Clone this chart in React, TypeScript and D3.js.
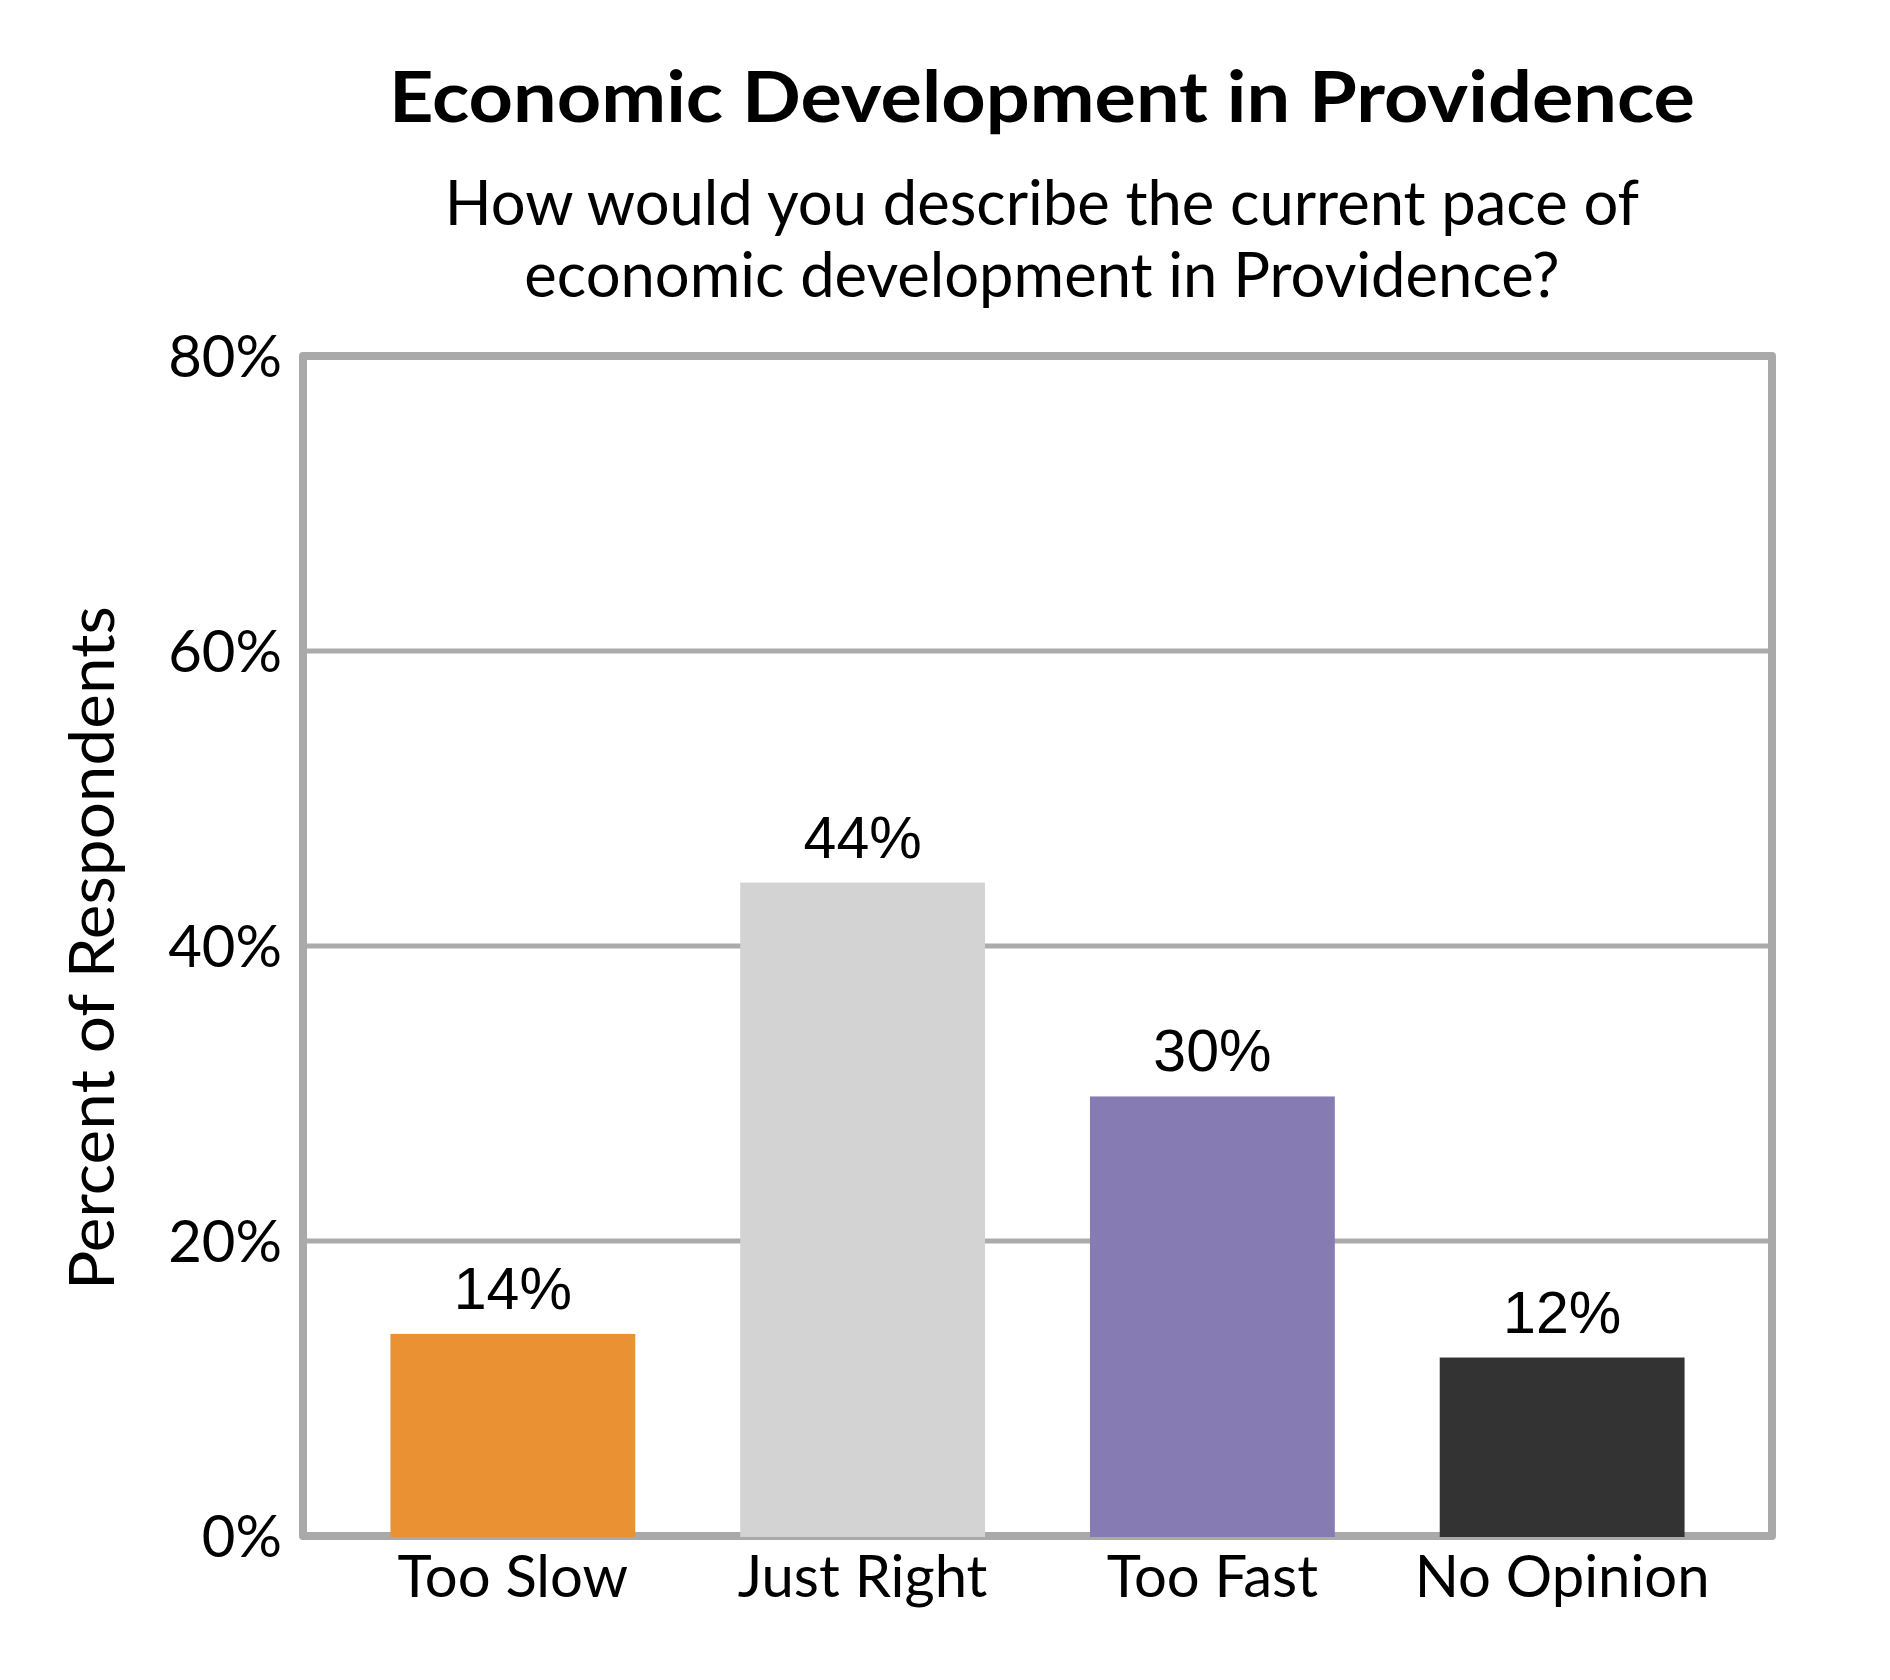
import React from 'react';
import * as d3 from 'd3';

const categories = ['Too Slow', 'Just Right', 'Too Fast', 'No Opinion'];
const values = [13.7, 44.3, 29.8, 12.1];
const valueLabels = ['14%', '44%', '30%', '12%'];
const barColors = ['#EA9233', '#D3D3D3', '#877BB4', '#333333'];
const yTicks = [0, 20, 40, 60, 80];

const title = 'Economic Development in Providence';
const subtitleLines = [
  'How would you describe the current pace of',
  'economic development in Providence?',
];
const yAxisTitle = 'Percent of Respondents';

const W = 1890;
const H = 1680;
const plot = { left: 303, right: 1772, top: 356, bottom: 1536 };
const calibriLike = 'Lato, "Open Sans", sans-serif';
const arialLike = '"Liberation Sans", Arial, sans-serif';

export default function App() {
  const x = d3.scaleBand<string>()
    .domain(categories)
    .range([plot.left, plot.right])
    .paddingInner(0.3)
    .paddingOuter(0.25);

  const y = d3.scaleLinear().domain([0, 80]).range([plot.bottom, plot.top]);

  const centerX = 1042;

  return (
    <svg
      width={W}
      height={H}
      viewBox={`0 0 ${W} ${H}`}
      style={{ position: 'absolute', left: 0, top: 0, background: '#fff' }}
    >
      {/* titles */}
      <text
        x={centerX}
        y={122}
        textAnchor="middle"
        fontFamily={calibriLike}
        fontWeight={700}
        fontSize={71}
        fill="#000"
        textLength={1306}
        lengthAdjust="spacingAndGlyphs"
      >
        {title}
      </text>
      {subtitleLines.map((line, i) => (
        <text key={line} x={centerX} y={225 + i * 72} textAnchor="middle" fontFamily={calibriLike} fontSize={61.5} fill="#000">
          {line}
        </text>
      ))}

      {/* gridlines */}
      {yTicks.filter(t => t > 0 && t < 80).map(t => (
        <line key={t} x1={plot.left} x2={plot.right} y1={y(t)} y2={y(t)} stroke="#ABABAB" strokeWidth={5} />
      ))}

      {/* plot frame */}
      <rect
        x={plot.left}
        y={plot.top}
        width={plot.right - plot.left}
        height={plot.bottom - plot.top}
        fill="none"
        stroke="#A9A9A9"
        strokeWidth={8}
        strokeLinejoin="round"
      />

      {/* y tick labels */}
      {yTicks.map(t => (
        <text key={t} x={282} y={y(t) + 21} textAnchor="end" fontFamily={calibriLike} fontSize={58} fill="#000">
          {`${t}%`}
        </text>
      ))}

      {/* bars */}
      {categories.map((c, i) => (
        <rect
          key={c}
          x={x(c)}
          y={y(values[i])}
          width={x.bandwidth()}
          height={y(0) - y(values[i]) + 1}
          fill={barColors[i]}
        />
      ))}

      {/* value labels */}
      {categories.map((c, i) => (
        <text
          key={c}
          x={(x(c) ?? 0) + x.bandwidth() / 2}
          y={y(values[i]) - 25}
          textAnchor="middle"
          fontFamily={arialLike}
          fontSize={59}
          fill="#000"
        >
          {valueLabels[i]}
        </text>
      ))}

      {/* category labels */}
      {categories.map(c => (
        <text
          key={c}
          x={(x(c) ?? 0) + x.bandwidth() / 2}
          y={1597}
          textAnchor="middle"
          fontFamily={calibriLike}
          fontSize={58}
          fill="#000"
        >
          {c}
        </text>
      ))}

      {/* y axis title */}
      <text
        transform={`translate(114, 948) rotate(-90)`}
        textAnchor="middle"
        fontFamily={calibriLike}
        fontSize={62}
        fill="#000"
        textLength={684}
        lengthAdjust="spacingAndGlyphs"
      >
        {yAxisTitle}
      </text>
    </svg>
  );
}
